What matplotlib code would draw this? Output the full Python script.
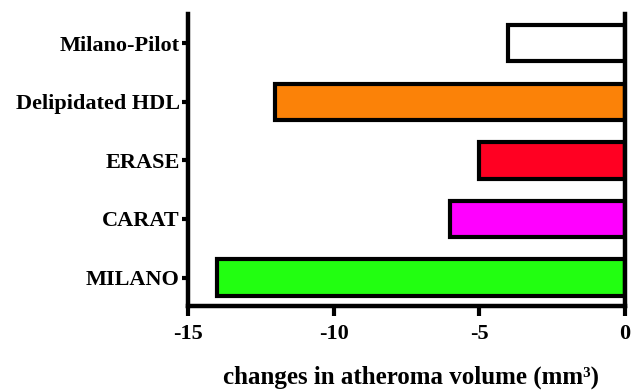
import matplotlib.pyplot as plt

#--data
trials=['MILANO','CARAT','ERASE','Delipidated HDL','Milano-Pilot']
changes=[-14,-6,-5,-12,-4]
colors=['#22ff11','#ff00ff','#ff0022','#fb8208','#ffffff']
xticks=[-15,-10,-5,0]

plt.rcParams['font.family']=['Liberation Serif','DejaVu Serif']
plt.rcParams['font.weight']='bold'

fig,ax=plt.subplots(figsize=(6.31,3.92),dpi=100)
fig.subplots_adjust(left=0.298,right=0.99,top=0.965,bottom=0.22)

ax.barh(range(len(trials)),changes,height=0.62,color=colors,edgecolor='black',linewidth=3,zorder=2)

ax.set_xlim(-15,0)
ax.set_ylim(-0.48,4.5)
ax.set_xticks(xticks)
ax.set_xticklabels([str(v) for v in xticks],fontsize=16,fontweight='bold')
ax.set_yticks(range(len(trials)))
ax.set_yticklabels(trials,fontsize=16,fontweight='bold')
ax.set_xlabel('changes in atheroma volume (mm³)',fontsize=18,fontweight='bold',va='center')
ax.xaxis.set_label_coords(0.51,-0.245)

for s in ['left','bottom','right']:
  ax.spines[s].set_linewidth(3.2)
ax.spines['top'].set_visible(False)
ax.tick_params(axis='y',length=4,width=3,pad=2)
ax.tick_params(axis='x',length=7,width=3,pad=6)

plt.savefig('out.png')
